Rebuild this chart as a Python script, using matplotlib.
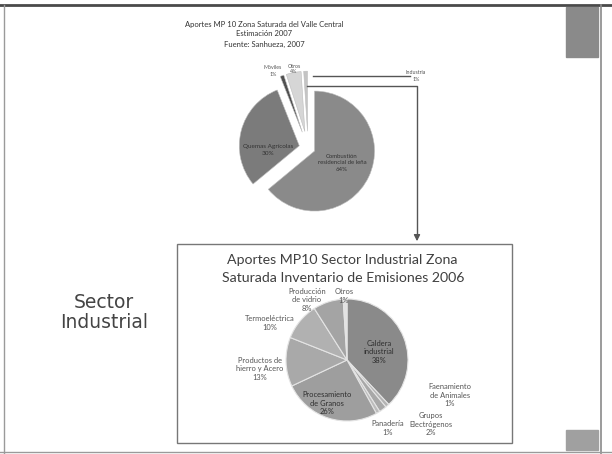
import matplotlib.pyplot as plt
from matplotlib.patches import Rectangle

# Aportes MP10, valle central (estimacion 2007)
valle_labels = ["Combustión\nresidencial de leña", "Quemas Agrícolas", "Móviles", "Otros", "Industria"]
valle_pct = [64, 30, 1, 4, 1]
valle_colors = ["#8a8a8a", "#7b7b7b", "#505050", "#d6d6d6", "#c4c4c4"]
valle_explode = [0.12, 0.15, 0.28, 0.28, 0.28]

# Aportes MP10 sector industrial (inventario 2006)
ind_labels = ["Caldera\nindustrial", "Faenamiento\nde Animales", "Grupos\nElectrógenos", "Panadería",
              "Procesamiento\nde Granos", "Productos de\nhierro y Acero", "Termoeléctrica",
              "Producción\nde vidrio", "Otros"]
ind_pct = [38, 1, 2, 1, 26, 13, 10, 8, 1]
ind_colors = ["#8a8a8a", "#b4b4b4", "#a8a8a8", "#bcbcbc", "#9e9e9e", "#a9a9a9", "#b1b1b1",
              "#a4a4a4", "#e2e2e2"]

W, H = 612, 454
fig = plt.figure(figsize=(W / 100, H / 100), dpi=100)
plt.rcParams["font.family"] = ["Lato", "DejaVu Sans"]

# full-figure overlay in pixel coordinates (y down), kept above the pies
ov = fig.add_axes([0, 0, 1, 1])
ov.set_xlim(0, W)
ov.set_ylim(H, 0)
ov.axis("off")
ov.set_zorder(10)
ov.patch.set_alpha(0)


def pie_axes(cx, cy, r, pad=1.6):
    side = 2 * r * pad
    ax = fig.add_axes([(cx - side / 2) / W, 1 - (cy + side / 2) / H, side / W, side / H])
    return ax, pad


def fix_limits(ax, pad):
    ax.set_xlim(-pad, pad)
    ax.set_ylim(-pad, pad)
    ax.axis("off")


# slide frame
ov.plot([0, W], [5, 5], color="#4a4a4a", lw=2)
ov.plot([4, 4], [5, H], color="#9a9a9a", lw=1)
ov.plot([601, 601], [5, H], color="#8a8a8a", lw=1.2)
ov.plot([0, W], [452, 452], color="#9a9a9a", lw=1)
ov.add_patch(Rectangle((566, 7), 32, 50, color="#8a8a8a"))
ov.add_patch(Rectangle((566, 430), 32, 20, color="#a0a0a0"))

# top pie
top_kw = dict(ha="center", va="center", fontsize=5.5, color="#333333")
ov.text(264, 24, "Aportes MP 10 Zona Saturada del Valle Central", **top_kw)
ov.text(264, 34, "Estimación 2007", **top_kw)
ov.text(264, 44, "Fuente: Sanhueza, 2007", **top_kw)

ax1, p1 = pie_axes(308, 148, 60)
ax1.pie(valle_pct, colors=valle_colors, explode=valle_explode, startangle=90, counterclock=False,
        wedgeprops=dict(edgecolor="#bdbdbd", linewidth=0.4))
fix_limits(ax1, p1)
ov.text(342, 163, valle_labels[0] + "\n" + f"{valle_pct[0]}%", ha="center", va="center",
        fontsize=4.3, color="#333333", linespacing=1.3)
ov.text(268, 150, valle_labels[1] + "\n" + f"{valle_pct[1]}%", ha="center", va="center",
        fontsize=4.6, color="#333333", linespacing=1.3)
ov.text(273, 71, valle_labels[2] + "\n" + f"{valle_pct[2]}%", ha="center", va="center",
        fontsize=3.8, color="#555555", linespacing=1.4)
ov.text(294, 69, valle_labels[3] + "\n" + f"{valle_pct[3]}%", ha="center", va="center",
        fontsize=3.8, color="#555555", linespacing=1.2)
ov.text(416, 76, valle_labels[4] + "\n" + f"{valle_pct[4]}%", ha="center", va="center",
        fontsize=3.8, color="#555555", linespacing=1.4)

# connector from the industry slice down to the detail box
ov.plot([313, 410], [76, 76], color="#555555", lw=1)
ov.plot([307, 417, 417], [86, 86, 236], color="#555555", lw=1)
ov.annotate("", xy=(417, 244), xytext=(417, 232),
            arrowprops=dict(arrowstyle="-|>", color="#555555", lw=1, mutation_scale=9))

# detail box
ov.add_patch(Rectangle((177, 244), 335, 199, fill=False, edgecolor="#777777", lw=1))
ov.text(342, 260, "Aportes MP10 Sector Industrial Zona", ha="center", va="center",
        fontsize=10.2, color="#404040")
ov.text(343, 278, "Saturada Inventario de Emisiones 2006", ha="center", va="center",
        fontsize=10.2, color="#404040")

ax2, p2 = pie_axes(347, 360, 61)
ax2.pie(ind_pct, colors=ind_colors, startangle=90, counterclock=False,
        wedgeprops=dict(edgecolor="#e4e4e4", linewidth=0.8))
fix_limits(ax2, p2)

lbl = dict(ha="center", va="center", fontsize=5.4, color="#555555", linespacing=1.3)
ind_pos = [(379, 352), (450, 395), (431, 424), (388, 428), (327, 403), (260, 369),
           (270, 323), (307, 300), (344, 296)]
for name, pct, (x, y) in zip(ind_labels, ind_pct, ind_pos):
    kw = dict(lbl)
    if name.startswith(("Caldera", "Procesamiento")):
        kw["color"] = "#2e2e2e"
    ov.text(x, y, f"{name}\n{pct}%", **kw)

ov.text(104, 302, "Sector", ha="center", va="center", fontsize=13.5, color="#444444",
        family=["DejaVu Sans"])
ov.text(104, 323, "Industrial", ha="center", va="center", fontsize=13.5, color="#444444",
        family=["DejaVu Sans"])

fig.savefig("out.png", dpi=100)
